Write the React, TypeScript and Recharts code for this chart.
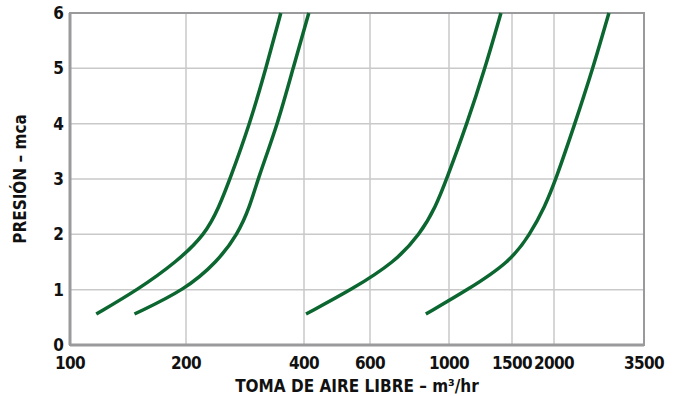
import { LineChart, Line, XAxis, YAxis, CartesianGrid, ReferenceArea } from "recharts";

// x axis of the original is hand-spaced, not a clean log scale
const X_TICKS = [100, 200, 400, 600, 1000, 1500, 2000, 3500];
const X_TICK_POS = [0, 116, 234, 300, 379, 442, 484, 574];
const Y_TICKS = [0, 1, 2, 3, 4, 5, 6];

const pressure = [0.56, 1.0, 1.5, 2.0, 2.5, 3.0, 4.0, 5.0, 6.0];
const flowA = [117, 150, 189, 224, 243, 259, 291, 320, 349];
const flowB = [147, 199, 240, 271, 291, 305, 343, 375, 412];
const flowC = [405, 536, 705, 829, 918, 985, 1123, 1261, 1397];
const flowD = [861, 1130, 1480, 1697, 1879, 2025, 2278, 2548, 2814];

const GREEN = "#0b6630";
const FONT = "'DejaVu Sans', sans-serif";
const textStyle = {
  fill: "#111",
  fontSize: 17,
  fontWeight: 700,
  fontFamily: FONT,
  fontStretch: "condensed",
};

function flowToPos(v: number) {
  for (let i = 0; i < X_TICKS.length - 1; i++) {
    const a = X_TICKS[i];
    const b = X_TICKS[i + 1];
    if (v <= b || i === X_TICKS.length - 2) {
      const t = Math.log(v / a) / Math.log(b / a);
      return X_TICK_POS[i] + t * (X_TICK_POS[i + 1] - X_TICK_POS[i]);
    }
  }
  return 0;
}

const toSeries = (flows: number[]) =>
  flows.map((f, i) => ({ x: flowToPos(f), y: pressure[i] }));

const curves = [flowA, flowB, flowC, flowD].map(toSeries);

export default function App() {
  return (
    <div style={{ position: "absolute", left: 0, top: 0 }}>
      <LineChart
        width={678}
        height={396}
        margin={{ top: 13, right: 34, bottom: 1, left: 30 }}
      >
        <CartesianGrid stroke="#c9c9c9" strokeWidth={1.5} />
        <XAxis
          type="number"
          dataKey="x"
          domain={[0, 574]}
          ticks={X_TICK_POS}
          tickFormatter={(p: number) => String(X_TICKS[X_TICK_POS.indexOf(p)])}
          height={50}
          axisLine={{ stroke: "#9a9a9c", strokeWidth: 3 }}
          tickLine={false}
          tick={{ ...textStyle, letterSpacing: -0.6 }}
          tickMargin={6}
          label={{
            value: "TOMA DE AIRE LIBRE – m³/hr",
            position: "insideBottom",
            offset: 3,
            style: textStyle,
          }}
        />
        <YAxis
          type="number"
          dataKey="y"
          domain={[0, 6]}
          ticks={Y_TICKS}
          width={40}
          axisLine={{ stroke: "#9a9a9c", strokeWidth: 3 }}
          tickLine={false}
          tick={textStyle}
          tickMargin={0}
          label={{
            value: "PRESIÓN – mca",
            angle: -90,
            position: "insideLeft",
            offset: -10,
            style: { ...textStyle, textAnchor: "middle" },
          }}
        />
        <ReferenceArea x1={0} x2={574} y1={0} y2={6} fill="none" stroke="#9a9a9c" strokeWidth={2} />
        {curves.map((d, i) => (
          <Line
            key={i}
            data={d}
            dataKey="y"
            type="basis"
            stroke={GREEN}
            strokeWidth={3.5}
            dot={false}
            isAnimationActive={false}
          />
        ))}
      </LineChart>
    </div>
  );
}
